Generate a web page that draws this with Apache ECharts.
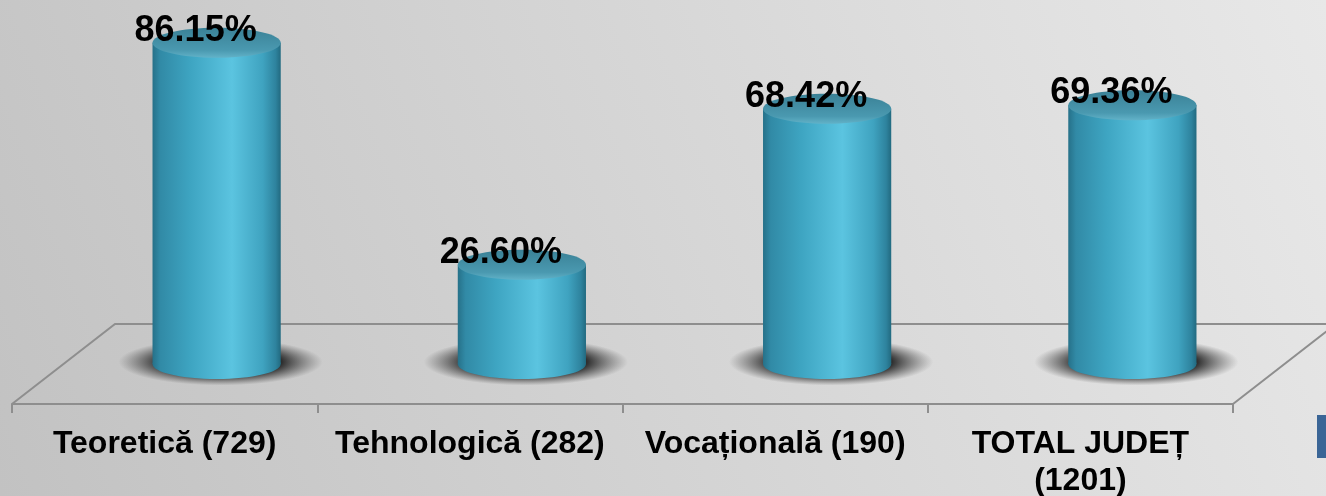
<!DOCTYPE html>
<html>
<head>
<meta charset="utf-8">
<script src="https://cdn.jsdelivr.net/npm/echarts@6/dist/echarts.min.js"></script>
<style>
  html, body { margin: 0; padding: 0; }
  #chart { width: 1326px; height: 496px; }
</style>
</head>
<body>
<div id="chart"></div>
<script>
// categories and promotion rates (%)
var categories = ['Teoretică (729)', 'Tehnologică (282)', 'Vocațională (190)', 'TOTAL JUDEȚ\n(1201)'];
var rates = [86.15, 26.60, 68.42, 69.36];

var FONT = '"Liberation Sans", Arial, sans-serif';

initCylinderChart();

function initCylinderChart() {
  var dom = document.getElementById('chart');
  var myChart = echarts.init(dom);

  var bodyColor = new echarts.graphic.LinearGradient(0, 0, 1, 0, [
    {offset: 0, color: '#267189'},
    {offset: 0.06, color: '#318aa6'},
    {offset: 0.3, color: '#3ea5c2'},
    {offset: 0.62, color: '#5bc4e0'},
    {offset: 0.86, color: '#3fa3c0'},
    {offset: 0.96, color: '#2e839e'},
    {offset: 1, color: '#226a80'}
  ]);
  var topColor = new echarts.graphic.LinearGradient(0, 0, 0, 1, [
    {offset: 0, color: '#3a8196'},
    {offset: 0.75, color: '#4a99b0'},
    {offset: 1, color: '#62b2c8'}
  ]);
  var shadowColor = new echarts.graphic.RadialGradient(0.5, 0.5, 0.5, [
    {offset: 0, color: 'rgba(10,10,10,1)'},
    {offset: 0.6, color: 'rgba(30,30,30,0.9)'},
    {offset: 1, color: 'rgba(70,70,70,0)'}
  ]);

  function renderCylinder(params, api) {
    var i = api.value(0);
    var v = api.value(1);
    var top = api.coord([i, v]);
    var base = api.coord([i, 0]);
    var rx = api.size([1, 0])[0] * 0.21;
    var ry = 15;
    return {
      type: 'group',
      children: [
        {
          type: 'circle',
          x: base[0] + 4, y: base[1] - 2,
          scaleY: 0.23,
          shape: {cx: 0, cy: 0, r: rx + 38},
          style: {fill: shadowColor}
        },
        {
          type: 'ellipse',
          shape: {cx: base[0], cy: base[1], rx: rx, ry: ry},
          style: {fill: bodyColor}
        },
        {
          type: 'rect',
          shape: {x: base[0] - rx, y: top[1], width: rx * 2, height: base[1] - top[1]},
          style: {fill: bodyColor}
        },
        {
          type: 'ellipse',
          shape: {cx: top[0], cy: top[1], rx: rx, ry: ry},
          style: {fill: topColor}
        },
        {
          type: 'text',
          style: {
            text: v.toFixed(2) + '%',
            x: top[0] - 21, y: top[1] - 12,
            align: 'center', verticalAlign: 'middle',
            fill: '#000',
            font: 'bold 36px ' + FONT
          }
        }
      ]
    };
  }

  var option = {
    backgroundColor: new echarts.graphic.LinearGradient(0, 1, 1, 0, [
      {offset: 0, color: '#c2c2c2'},
      {offset: 1, color: '#e8e8e8'}
    ]),
    animation: false,
    graphic: [
      {
        type: 'polyline',
        shape: {points: [[12, 404], [115, 324], [1336, 324], [1233, 404]]},
        style: {stroke: '#8e8e8e', lineWidth: 2, fill: null},
        z: 0
      },
      {
        type: 'rect',
        shape: {x: 1317, y: 415, width: 12, height: 43},
        style: {fill: '#3a6596'}
      }
    ],
    grid: [
      {left: 12, right: 93, top: 0, bottom: 92, outerBoundsMode: 'none', containLabel: false},
      {left: 64, right: 41, top: -9, bottom: 132, outerBoundsMode: 'none'}
    ],
    xAxis: [
      {
        type: 'category',
        gridIndex: 0,
        data: categories,
        axisLine: {lineStyle: {color: '#8e8e8e', width: 2}},
        axisTick: {show: true, length: 9, lineStyle: {color: '#8e8e8e', width: 2}},
        axisLabel: {
          interval: 0,
          margin: 22,
          color: '#000',
          fontFamily: FONT,
          fontWeight: 'bold',
          fontSize: 32,
          lineHeight: 37
        }
      },
      {
        type: 'category',
        gridIndex: 1,
        data: categories,
        show: false
      }
    ],
    yAxis: [
      {type: 'value', gridIndex: 0, show: false},
      {type: 'value', gridIndex: 1, min: 0, max: 100, show: false}
    ],
    series: [
      {
        type: 'custom',
        xAxisIndex: 1,
        yAxisIndex: 1,
        renderItem: renderCylinder,
        data: rates.map(function (r, i) { return [i, r]; }),
        z: 5
      }
    ]
  };

  myChart.setOption(option, true);
}
</script>
</body>
</html>
